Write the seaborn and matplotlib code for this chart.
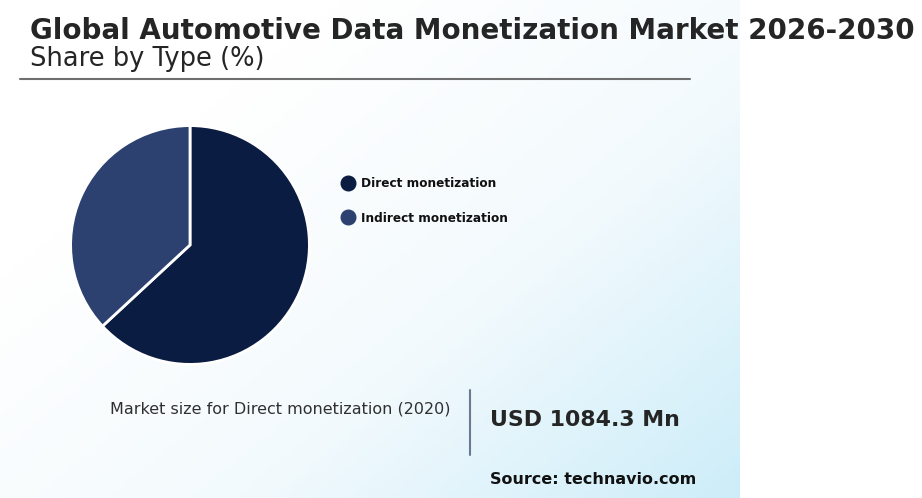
"""Share-by-type pie for the automotive data monetization market."""

import numpy as np
import matplotlib
matplotlib.use("Agg")
import matplotlib.pyplot as plt
from matplotlib.colors import LinearSegmentedColormap
from matplotlib.lines import Line2D
import seaborn as sns

# data
segments = ["Direct monetization", "Indirect monetization"]
shares = [63.1, 36.9]
seg_colors = ["#0a1c41", "#2c4170"]

title = "Global Automotive Data Monetization Market 2026-2030"
subtitle = "Share by Type (%)"
kpi_label = "Market size for Direct monetization (2020)"
kpi_value = "USD 1084.3 Mn"
source = "Source: technavio.com"

sns.set_theme(style="white")
plt.rcParams["font.family"] = ["DejaVu Sans"]

W, H = 922, 498
fig = plt.figure(figsize=(W / 100, H / 100), dpi=100)
fig.patch.set_facecolor("white")

# gradient panel (white top-left -> light blue bottom-right)
bg = fig.add_axes([0, 0, 740 / W, 1])
xx, yy = np.meshgrid(np.linspace(0, 1, 200), np.linspace(0, 1, 120))
t = np.clip((xx * 0.55 + yy * 0.45 - 0.25) / 0.75, 0, 1)
cmap = LinearSegmentedColormap.from_list("bgc", ["#ffffff", "#f3fafd", "#cdedf9"])
bg.imshow(t, cmap=cmap, aspect="auto", extent=[0, 1, 0, 1], origin="upper")
bg.set_axis_off()

# pie
r = 120
cx, cy = 190, 245
pie_ax = fig.add_axes([(cx - r) / W, (H - cy - r) / H, 2 * r / W, 2 * r / H])
pie_ax.pie(shares, colors=sns.color_palette(seg_colors), startangle=90,
           counterclock=False,
           wedgeprops={"edgecolor": "white", "linewidth": 2})
pie_ax.set_xlim(-1.005, 1.005)
pie_ax.set_ylim(-1.005, 1.005)
pie_ax.set_aspect("equal")
pie_ax.set_axis_off()

# legend
handles = [Line2D([0], [0], marker="o", linestyle="", markersize=10.5,
                  markerfacecolor=c, markeredgecolor=c) for c in seg_colors]
leg = fig.legend(handles, segments, loc="upper left",
                 bbox_to_anchor=(328 / W, 1 - 166 / H), frameon=False,
                 prop={"weight": "bold", "size": 8.7}, labelspacing=1.8,
                 handletextpad=0.35, handlelength=1.5)
for txt in leg.get_texts():
    txt.set_color("#111111")

# titles
fig.text(30 / W, 1 - 31 / H, title, fontsize=20.0, fontweight="bold",
         color="#252525", va="center", ha="left")
fig.text(30 / W, 1 - 59 / H, subtitle, fontsize=18.5, color="#252525",
         va="center", ha="left")
fig.add_artist(Line2D([20 / W, 690 / W], [1 - 79 / H, 1 - 79 / H],
                      color="#6f6f6f", linewidth=1.5))

# KPI block
fig.text(280 / W, 1 - 409 / H, kpi_label, fontsize=11.5, color="#303030",
         va="center", ha="center")
fig.add_artist(Line2D([470 / W, 470 / W], [1 - 390 / H, 1 - 455 / H],
                      color="#6b7a90", linewidth=1.5))
fig.text(490 / W, 1 - 420 / H, kpi_value, fontsize=15.8, fontweight="bold",
         color="#252525", va="center", ha="left")
fig.text(490 / W, 1 - 479 / H, source, fontsize=11.5, fontweight="bold",
         color="#111111", va="center", ha="left")

fig.savefig("out.png", dpi=100, facecolor="white")
plt.close(fig)
